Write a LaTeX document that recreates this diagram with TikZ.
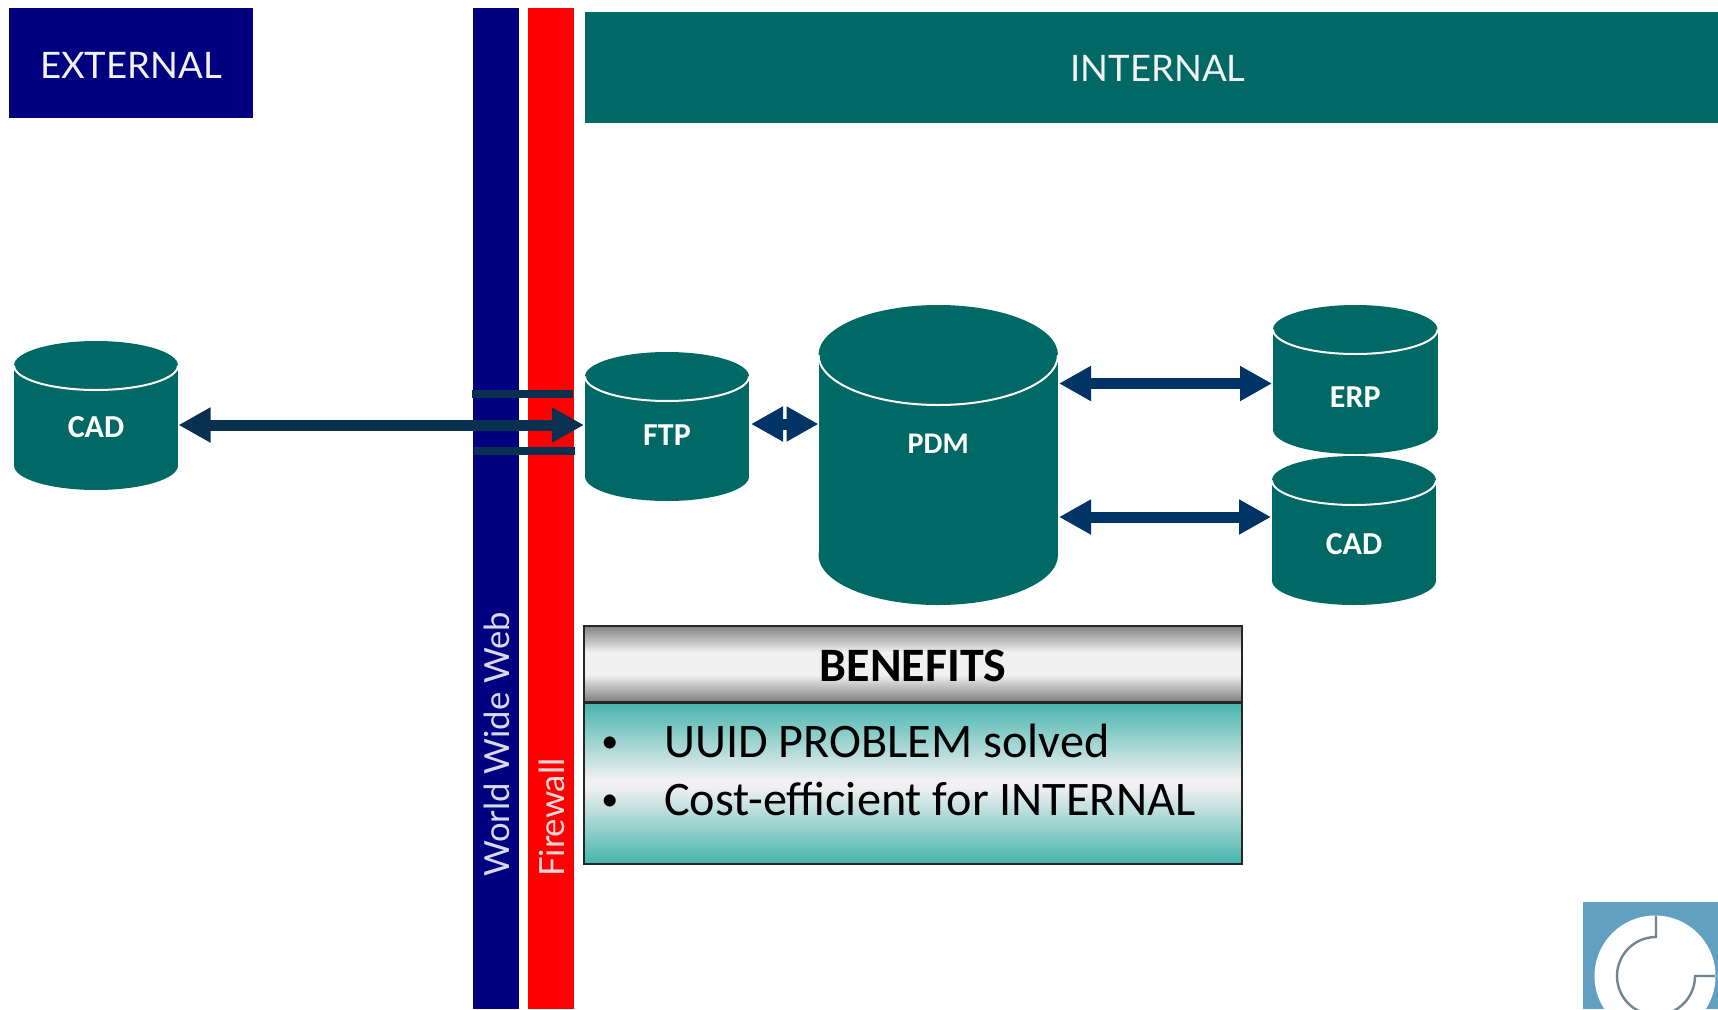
\documentclass[tikz,border=0pt]{standalone}
\usepackage{fontspec}
\setmainfont{Carlito}
\newfontfamily\gillish{Lato}
\usetikzlibrary{arrows.meta}
\definecolor{teal}{HTML}{006865}
\definecolor{navy}{HTML}{000080}
\definecolor{fire}{HTML}{FF0000}
\definecolor{arrowA}{HTML}{003366}
\definecolor{arrowB}{HTML}{0A3050}
\definecolor{benefit}{HTML}{46B5AE}
\definecolor{headgray}{HTML}{808080}
\definecolor{pale}{HTML}{F0F0F0}
\definecolor{logobg}{HTML}{62A0C2}
\definecolor{logoline}{HTML}{6F8590}
\tikzset{
  banner/.style={inner sep=0pt,text=white!90!gray,font=\gillish\fontsize{36.5}{40}\selectfont,anchor=center},
  bartext/.style={rotate=90,anchor=west,inner sep=0pt,font=\gillish\fontsize{34.6}{36}\selectfont},
  dbbox/.style={inner sep=0pt,outer sep=0pt},
  dblabel/.style={text=white,inner sep=0pt,font=\bfseries\fontsize{32}{34}\selectfont},
  dbl/.style={line width=11pt,{Triangle[length=32pt,width=33pt]}-{Triangle[length=32pt,width=33pt]},color=arrowA},
  listline/.style={anchor=base west,inner sep=0pt,font=\fontsize{48.2}{52}\selectfont},
  strip/.style={fill=arrowB},
  boxedge/.style={draw=black!85,line width=2.6pt}
}
\newcommand{\cyl}[8]{%
  \pgfmathsetmacro{\xc}{(#2+#4)/2}%
  \pgfmathsetmacro{\yc}{(#3+#5)/2}%
  \pgfmathsetmacro{\rx}{(#4-#2)/2}%
  \pgfmathsetmacro{\wid}{#4-#2}%
  \pgfmathsetmacro{\hei}{#5-#3}%
  \pgfmathsetmacro{\yt}{#3+#6}%
  \pgfmathsetmacro{\yb}{#5-#6}%
  \fill[teal] (#2,\yt) rectangle (#4,\yb);
  \fill[teal] (\xc,\yt) circle[x radius=\rx pt,y radius=#6pt];
  \fill[teal] (\xc,\yb) circle[x radius=\rx pt,y radius=#6pt];
  \draw[white,line width=2pt] (#2,\yt) arc[start angle=180,end angle=360,x radius=\rx pt,y radius=#6pt];
  \node[dbbox,minimum width=\wid pt,minimum height=\hei pt] (#1) at (\xc,\yc) {};
  \node[dblabel] (#1-text) at (\xc,#8) {#7};
}
% gradient drawn as thin strips: edge colour to pale to edge colour; plateau fraction #6
\newcommand{\gradbox}[6]{%
  \foreach \i in {#2,...,#4}{%
    \pgfmathsetmacro{\tt}{abs((\i+0.5-#2)/(#4-#2)-0.5)*2}%
    \pgfmathsetmacro{\pp}{min(100,max(0,100*(\tt-#6)/(1-#6)))}%
    \fill[color=#5!\pp!pale] (#1,\i) rectangle (#3,\i+1.3);
  }%
}
\begin{document}
\begin{tikzpicture}[x=1pt,y=-1pt]
\useasboundingbox (0,0) rectangle (1718,1009);
\fill[white] (0,0) rectangle (1718,1009);
% banners
\fill[navy] (9,8) rectangle (253,118);
\node[banner] (external) at (131,65) {EXTERNAL};
\fill[teal] (585,12) rectangle (1718,123);
\node[banner] (internal) at (1158,68) {INTERNAL};
% bars
\fill[navy] (473,8) rectangle (519,1009);
\fill[fire] (528,8) rectangle (574,1009);
\node[bartext,text=white!85!navy] (www) at (497,877) {World Wide Web};
\node[bartext,text=white!85!fire] (firewall) at (552,877) {Firewall};
% cylinders
\cyl{cadL}{14}{341}{178}{490}{24.5}{CAD}{427}
\cyl{ftp}{585}{352}{749}{501}{24.5}{FTP}{435}
\cyl{pdm}{818.5}{305}{1058}{605}{50}{\fontsize{30}{32}\selectfont PDM}{444}
\cyl{erp}{1273}{305}{1437.5}{454}{24.5}{ERP}{397}
\cyl{cadR}{1272}{456}{1436}{605}{24.5}{CAD}{544}
% connectors
\fill[strip] (472,390) rectangle (573,398);
\fill[strip] (474,447) rectangle (575,455);
\draw[dbl,color=arrowB] ([yshift=-9.5pt,xshift=0.5pt]cadL.east) -- ([yshift=1.5pt,xshift=-1pt]ftp.west);
\draw[dbl] ([yshift=2.5pt,xshift=2pt]ftp.east) -- ([yshift=31pt]pdm.west);
\draw[dbl] ([yshift=71.5pt,xshift=1pt]pdm.east) -- ([yshift=-4pt,xshift=-1pt]erp.west);
\draw[dbl] ([yshift=-62pt,xshift=1pt]pdm.east) -- ([yshift=13.5pt,xshift=-1pt]cadR.west);
% benefits box
\gradbox{584}{626}{1242}{702}{headgray}{0.3}
\draw[boxedge] (584,626) rectangle (1242,702);
\node[inner sep=0pt,font=\bfseries\fontsize{48}{52}\selectfont] (benefits) at (913,666) {BENEFITS};
\gradbox{584}{703}{1242}{864}{benefit}{0.05}
\draw[boxedge] (584,703) rectangle (1242,864);
\node[listline] (item1) at (664,757) {\llap{\raisebox{5pt}{\fontsize{34}{34}\selectfont •}\hspace{46pt}}UUID PROBLEM solved};
\node[listline] (item2) at (664,815) {\llap{\raisebox{5pt}{\fontsize{34}{34}\selectfont •}\hspace{46pt}}Cost-efficient for INTERNAL};
% logo
\begin{scope}
\clip (1583,902) rectangle (1718,1009);
\fill[logobg] (1583,902) rectangle (1718,1009);
\fill[white] (1655,976) circle[radius=60.5pt];
\draw[logoline,line width=2.4pt] (1656,916) -- (1656,937) arc[start angle=90,end angle=360,radius=39pt] -- (1715,976);
\end{scope}
\end{tikzpicture}
\end{document}
